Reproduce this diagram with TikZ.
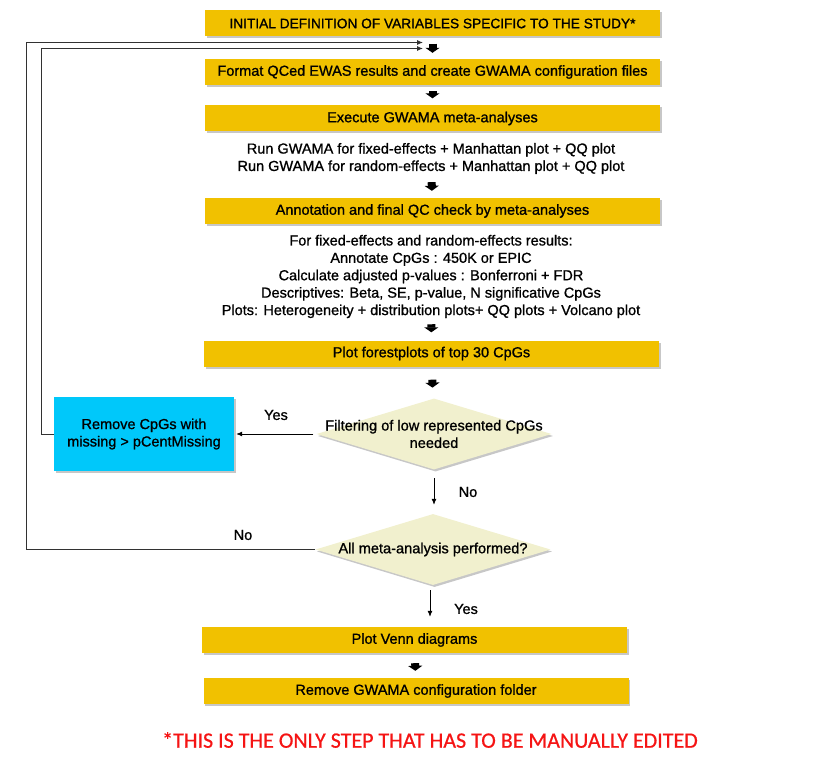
\documentclass[tikz,border=0pt]{standalone}
\usepackage{fontspec}
\setmainfont{Liberation Sans}[FakeBold=1.0]
\newfontfamily\redfont{Carlito}[FakeBold=0.6]
\usetikzlibrary{shapes.geometric,shadows,arrows.meta}
\definecolor{boxyellow}{RGB}{241,193,0}
\definecolor{boxblue}{RGB}{0,200,250}
\definecolor{diafill}{RGB}{241,240,206}
\definecolor{loopgray}{RGB}{50,50,50}
\definecolor{notered}{RGB}{245,20,20}
\begin{document}
\begin{tikzpicture}[x=1pt,y=-1pt,
  shadowed/.style={drop shadow={shadow xshift=1.5pt,shadow yshift=-2pt,fill=black,opacity=0.22}},
  ybox/.style={fill=boxyellow,minimum width=455pt,minimum height=26pt,inner sep=0pt,
    font=\fontsize{14.5}{17.4}\selectfont,shadowed},
  ybottom/.style={ybox,minimum width=425pt},
  bluebox/.style={fill=boxblue,minimum width=180pt,minimum height=74pt,inner sep=0pt,
    align=center,font=\fontsize{14.5}{17.4}\selectfont,shadowed},
  dia/.style={diamond,fill=diafill,inner sep=0pt,minimum width=235pt,minimum height=71pt,shadowed},
  dtext/.style={align=center,font=\fontsize{14.6}{17.4}\selectfont,inner sep=0pt},
  desc/.style={align=center,font=\fontsize{14.5}{17.4}\selectfont,inner sep=0pt},
  blk/.style={line width=8pt,-{Triangle[width=14pt,length=5pt]}},
  thin/.style={line width=0.8pt,-{Latex[length=6pt,width=5pt]}},
  loopline/.style={draw=loopgray,line width=0.9pt,-{Latex[length=6pt,width=5pt]}},
  lab/.style={font=\fontsize{14.5}{17}\selectfont,inner sep=0pt}
]
\useasboundingbox (0,0) rectangle (836,762);

% boxes
\node[ybox,font=\fontsize{13.7}{17}\selectfont] (b1) at (432.5,23.5) {INITIAL DEFINITION OF VARIABLES SPECIFIC TO THE STUDY*};
\node[ybox] (b2) at (432.5,72) {Format QCed EWAS results and create GWAMA configuration files};
\node[ybox] (b3) at (432.5,118.5) {Execute GWAMA meta-analyses};
\node[desc] (t1) at (431,158.5) {Run GWAMA for fixed-effects + Manhattan plot + QQ plot\\Run GWAMA for random-effects + Manhattan plot + QQ plot};
\node[ybox] (b4) at (432.5,211) {Annotation and final QC check by meta-analyses};
\node[desc] (t2) at (431,276.5) {For fixed-effects and random-effects results:\\Annotate CpGs : 450K or EPIC\\Calculate adjusted p-values : Bonferroni + FDR\\Descriptives: Beta, SE, p-value, N significative CpGs\\Plots: Heterogeneity + distribution plots+ QQ plots + Volcano plot};
\node[ybox] (b5) at (431.5,353.5) {Plot forestplots of top 30 CpGs};

\node[dia,label={[dtext]center:Filtering of low represented CpGs\\needed}] (d1) at (434,434) {};
\node[bluebox] (bl) at (144,434) {Remove CpGs with\\missing > pCentMissing};
\node[dia,label={[dtext]center:All meta-analysis performed?}] (d2) at (433,549.5) {};

\node[ybottom] (b6) at (414.5,640) {Plot Venn diagrams};
\node[ybottom] (b7) at (416,691) {Remove GWAMA configuration folder};

\node[font=\redfont\fontsize{22}{24}\selectfont,text=notered,inner sep=0pt] (note) at (430,740) {*THIS IS THE ONLY STEP THAT HAS TO BE MANUALLY EDITED};

% block arrows
\draw[blk,shorten <=7pt,shorten >=6pt] (b1) -- (b2);
\draw[blk,shorten <=6pt,shorten >=7pt] (b2) -- (b3);
\draw[blk,shorten <=8pt,shorten >=7pt] (t1) -- (b4);
\draw[blk,shorten <=6pt,shorten >=8pt] (t2) -- (b5);
\draw[blk,shorten <=13pt,shorten >=11pt] (b5) -- (d1);
\draw[blk,shorten <=10pt,shorten >=7pt] (b6) -- (b7);

% decision arrows
\draw[thin,shorten <=3pt,shorten >=2pt] (d1.west) -- (bl.east);
\node[lab] (yes1) at (276,415) {Yes};
\draw[thin,shorten <=8.5pt,shorten >=9pt] (d1.south) -- (d1.south |- d2.north);
\node[lab] (no1) at (468,492) {No};
\coordinate (d2out) at (430,585);
\draw[thin,shorten <=5pt,shorten >=10pt] (d2out) -- (d2out |- b6.north);
\node[lab] (yes2) at (466,609) {Yes};

% loops
\coordinate (o1) at (26,42.5);
\coordinate (o2) at (423,42.5);
\coordinate (i1) at (41,48.5);
\coordinate (i2) at (423,48.5);
\draw[loopline] (d2.west) -| (o1) -- (o2);
\draw[loopline] (bl.west) -| (i1) -- (i2);
\node[lab] (no2) at (243,535) {No};
\end{tikzpicture}
\end{document}
